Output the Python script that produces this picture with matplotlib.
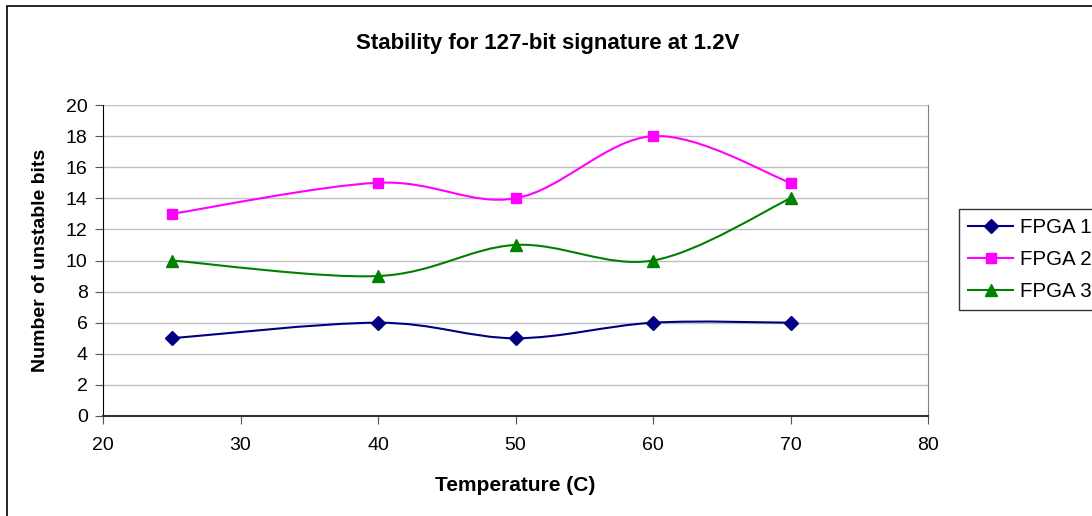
import matplotlib
matplotlib.use("Agg")
import matplotlib.pyplot as plt
from matplotlib.path import Path
from matplotlib.patches import PathPatch, Rectangle
from matplotlib.lines import Line2D

plt.rcParams['font.family'] = ['Liberation Sans', 'DejaVu Sans']

temps = [25, 40, 50, 60, 70]
fpga1 = [5, 6, 5, 6, 6]
fpga2 = [13, 15, 14, 18, 15]
fpga3 = [10, 9, 11, 10, 14]

series = [
    ("FPGA 1", fpga1, "#000080", "D", 7),
    ("FPGA 2", fpga2, "#FF00FF", "s", 7),
    ("FPGA 3", fpga3, "#008000", "^", 8),
]


def smooth_path(xs, ys):
    # Excel-like smoothed line: Catmull-Rom segments as cubic Beziers
    pts = list(zip(xs, ys))
    n = len(pts)
    verts = [pts[0]]
    codes = [Path.MOVETO]
    for i in range(n - 1):
        p0 = pts[i - 1] if i > 0 else pts[i]
        p1 = pts[i]
        p2 = pts[i + 1]
        p3 = pts[i + 2] if i + 2 < n else pts[i + 1]
        c1 = (p1[0] + (p2[0] - p0[0]) / 6, p1[1] + (p2[1] - p0[1]) / 6)
        c2 = (p2[0] - (p3[0] - p1[0]) / 6, p2[1] - (p3[1] - p1[1]) / 6)
        verts += [c1, c2, p2]
        codes += [Path.CURVE4] * 3
    return Path(verts, codes)


fig = plt.figure(figsize=(10.92, 5.16), dpi=100)
ax = fig.add_axes([103 / 1092, 1 - 416 / 516, 825 / 1092, 311 / 516])

handles = []
for name, vals, color, marker, ms in series:
    ax.add_patch(PathPatch(smooth_path(temps, vals), facecolor='none',
                           edgecolor=color, lw=1.5, zorder=3))
    ax.plot(temps, vals, linestyle='none', marker=marker, color=color,
            markersize=ms, zorder=4)
    handles.append(Line2D([], [], color=color, lw=1.5, marker=marker,
                          markersize=ms, label=name))

ax.set_xlim(20, 80)
ax.set_ylim(0, 20)
ax.set_xticks(range(20, 81, 10))
ax.set_yticks(range(0, 21, 2))
ax.yaxis.grid(True, color='#C0C0C0', lw=1)
ax.set_axisbelow(True)
ax.spines['top'].set_visible(False)
ax.spines['right'].set_color('#808080')
ax.spines['left'].set_color('black')
ax.spines['bottom'].set_color('#333333')
ax.spines['bottom'].set_linewidth(1.5)
ax.tick_params(direction='out', length=6, labelsize=14, color='#555555')
ax.tick_params(axis='x', pad=9)
ax.tick_params(axis='y', pad=5)

ax.set_xlabel("Temperature (C)", fontsize=15, fontweight='bold', labelpad=16)
ax.set_ylabel("Number of unstable bits", fontsize=14, fontweight='bold',
              labelpad=12)
fig.text(548 / 1092, 1 - 43 / 516, "Stability for 127-bit signature at 1.2V",
         ha='center', va='center', fontsize=16, fontweight='bold')

leg = fig.legend(handles=handles, loc='upper left',
                 bbox_to_anchor=(959 / 1092, 1 - 209 / 516),
                 fontsize=14.8, frameon=True, fancybox=False,
                 borderpad=0.45, labelspacing=0.62, handlelength=2.2,
                 handletextpad=0.3, borderaxespad=0)
leg.get_frame().set_edgecolor('black')
leg.get_frame().set_linewidth(1)

fig.patches.append(Rectangle((7 / 1092, -0.1), 1.2, 1 - 6 / 516 + 0.1,
                             transform=fig.transFigure, fill=False,
                             edgecolor='black', lw=1.2))

fig.savefig("out.png", dpi=100)
